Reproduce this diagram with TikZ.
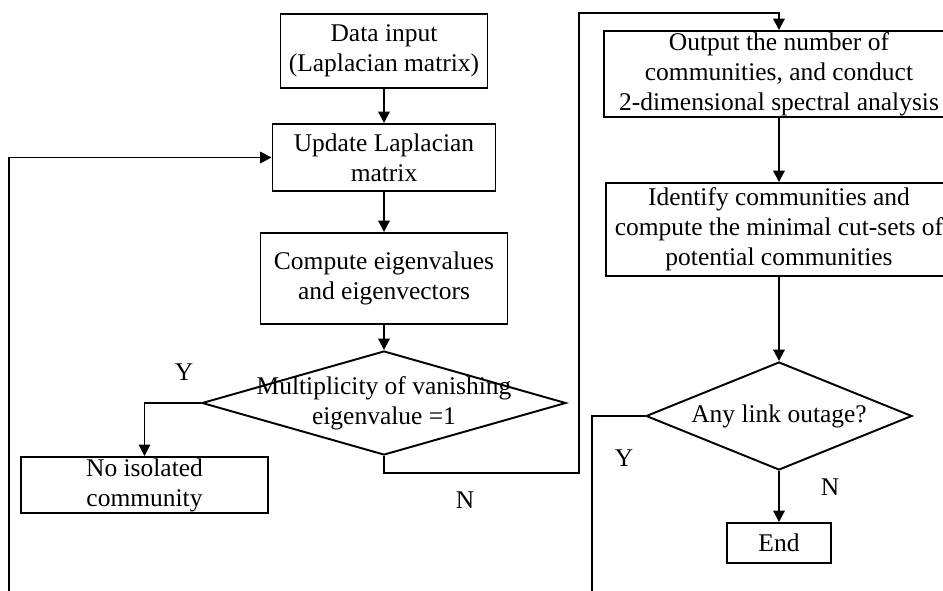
\documentclass[tikz,border=0pt]{standalone}
\usepackage{fontspec}
\setmainfont{Liberation Serif}
\usetikzlibrary{arrows.meta,shapes.geometric}
\begin{document}
\begin{tikzpicture}[x=0.02cm,y=-0.02cm,line width=1.1pt,
    font=\fontsize{14.5}{17}\selectfont,
    box/.style={draw,rectangle,align=center,inner sep=0pt},
    dec/.style={draw,diamond,inner sep=0pt},
    arr/.style={-{Triangle[length=6.5pt,width=6.5pt]}}]
  \useasboundingbox (0,0) rectangle (943,591);
  \clip (0,0) rectangle (943,591);
  % left column
  \node[box,minimum width=4.14cm,minimum height=1.48cm] (input) at (384,51) {Data input\\(Laplacian matrix)};
  \node[box,minimum width=4.46cm,minimum height=1.34cm] (update) at (384,157.5) {Update Laplacian\\matrix};
  \node[box,minimum width=4.94cm,minimum height=1.82cm] (eig) at (384,278.5) {Compute eigenvalues\\and eigenvectors};
  \node[dec,minimum width=7.28cm,minimum height=2.08cm] (mult) at (384,403) {};
  \node[align=center] (multtxt) at (mult) {Multiplicity of vanishing\\eigenvalue =1};
  \node[box,minimum width=4.94cm,minimum height=1.12cm] (iso) at (144.5,485) {No isolated\\community};
  % right column
  \node[box,minimum width=7.0cm,minimum height=1.72cm] (out) at (779,74) {Output the number of\\communities, and conduct\\2-dimensional spectral analysis};
  \node[box,minimum width=6.92cm,minimum height=1.86cm] (ident) at (779,229.5) {Identify communities and\\compute the minimal cut-sets of\\potential communities};
  \node[dec,minimum width=5.32cm,minimum height=2.16cm] (link) at (779,416) {};
  \node (linktxt) at (link) {Any link outage?};
  \node[box,minimum width=2.08cm,minimum height=0.8cm] (end) at (779,543) {End};
  % labels
  \node (y1) at (184,372) {Y};
  \node (n1) at (465,500) {N};
  \node (y2) at (624,458) {Y};
  \node (n2) at (830,487) {N};
  \coordinate (c1) at (579,473);
  \coordinate (c2) at (579,13);
  \coordinate (c3) at (9,620);
  \coordinate (c4) at (592,620);
  % connectors
  \draw[arr] (input) -- (update);
  \draw[arr] (update) -- (eig);
  \draw[arr] (eig) -- (mult);
  \draw[arr] (mult.west) -| (iso.north);
  \draw[arr] (mult.south) |- (c1) -- (c2) -| (out.north);
  \draw[arr] (out) -- (ident);
  \draw[arr] (ident) -- (link);
  \draw[arr] (link) -- (end);
  \draw (link.west) -| (c4);
  \draw[arr] (c3) |- (update.west);
\end{tikzpicture}
\end{document}
